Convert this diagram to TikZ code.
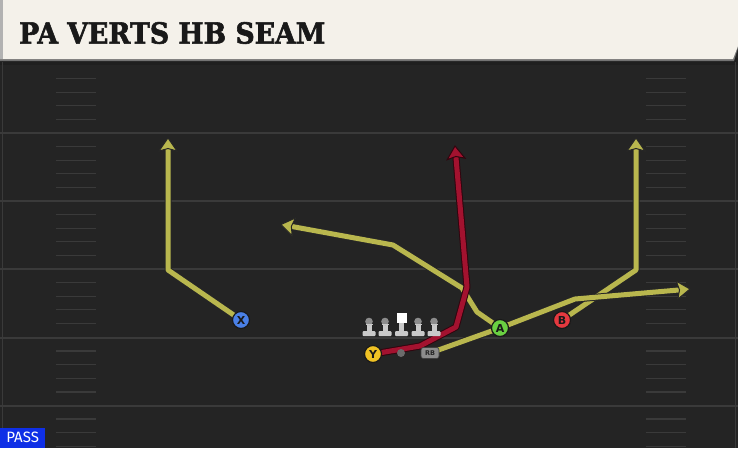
\documentclass[tikz,border=0pt]{standalone}
\usepackage{fontspec}
\usepackage{graphicx}
\usetikzlibrary{calc}
\newfontfamily\titlefont[BoldFeatures={FakeBold=2}]{DejaVu Serif}
\newfontfamily\passfont{Fira Sans}
\newfontfamily\lblfont{DejaVu Sans}
\definecolor{fieldbg}{HTML}{242424}
\definecolor{yardcol}{HTML}{3A3A3A}
\definecolor{hashcol}{HTML}{3A3A3A}
\definecolor{titlebg}{HTML}{F4F1EA}
\definecolor{olivec}{HTML}{B9B74E}
\definecolor{redc}{HTML}{A3122F}
\definecolor{xblue}{HTML}{4A80E6}
\definecolor{yyel}{HTML}{F0C224}
\definecolor{agreen}{HTML}{6AD042}
\definecolor{bred}{HTML}{E5393F}
\definecolor{passblue}{HTML}{0F2FE6}
\definecolor{olbody}{HTML}{C9C9C9}
\definecolor{olhead}{HTML}{8C8C8C}
\pgfdeclarelayer{fieldlayer}
\pgfdeclarelayer{routelayer}
\pgfsetlayers{fieldlayer,routelayer,main}
\tikzset{
  yard/.style={draw=yardcol,line width=2pt},
  hashm/.style={draw=hashcol,line width=1.3pt},
  olout/.style={draw=black!85,line width=7pt,line join=round,shorten >=9pt},
  olin/.style={draw=olivec,line width=5pt,line join=round,shorten >=9pt},
  redout/.style={draw=black!70!redc,line width=7pt,line join=round,shorten >=9pt},
  redin/.style={draw=redc,line width=5pt,line join=round,shorten >=9pt},
  player/.style={circle,draw=black!90,line width=1.2pt,minimum size=17pt,inner sep=0pt,
    font=\lblfont\bfseries\fontsize{11}{11}\selectfont,text=black!90},
  lineman/.pic={
    \fill[olbody,rounded corners=1pt] (-6.5,-2) rectangle (6.5,3);
    \fill[olbody] (-2.5,-9) rectangle (2.5,-1);
    \fill[olhead] (0,-11.5) circle (3.8);
    \fill[olbody] (-3.5,-9.5) rectangle (3.5,-8);
  },
  centerman/.pic={
    \fill[olbody,rounded corners=1pt] (-6.5,-2) rectangle (6.5,3);
    \fill[olbody] (-2.5,-10) rectangle (2.5,-1);
    \fill[white] (-5,-20) rectangle (5,-10);
  }
}
% arrowhead: #1 tip, #2 previous point, #3 fill, #4 outline
\newcommand\ahead[4]{%
  \coordinate (ahB) at ($(#1)!13pt!(#2)$);
  \filldraw[fill=#3,draw=#4,line width=1pt,line join=miter]
    (#1) -- ($(ahB)!9pt!90:(#1)$) -- ($(#1)!10.5pt!(#2)$) -- ($(ahB)!9pt!-90:(#1)$) -- cycle;}
\newcommand\olroute[3]{\draw[olout] #1; \draw[olin] #1; \ahead{#2}{#3}{olivec}{black!85}}
\newcommand\redroute[3]{\draw[redout] #1; \draw[redin] #1; \ahead{#2}{#3}{redc}{black!70!redc}}
\begin{document}
\begin{tikzpicture}[x=1pt,y=-1pt]
\useasboundingbox (0,0) rectangle (738,448);
\begin{pgfonlayer}{fieldlayer}
  \fill[fieldbg] (0,0) rectangle (738,448);
  \fill[black!88] (0,58) rectangle (738,65);
  \foreach \y in {133,201,269,337.5,405.5} {\draw[yard] (0,\y) -- (738,\y);}
  \foreach \b in {65,133,201,269,337.5,405.5} {
    \foreach \j in {1,2,3,4} {
      \draw[hashm] (56,{\b+13.6*\j}) -- (96,{\b+13.6*\j});
      \draw[hashm] (646,{\b+13.6*\j}) -- (686,{\b+13.6*\j});
    }
  }
  \draw[yardcol,line width=1.2pt] (2.5,62) -- (2.5,448);
  \draw[yardcol,line width=1.2pt] (735.5,62) -- (735.5,448);
  \fill[black!55] (0,0) -- (738,0) -- (738,48) -- (734,61) -- (0,61) -- cycle;
  \fill[titlebg] (0,0) -- (738,0) -- (738,46) -- (733,59) -- (0,59) -- cycle;
  \fill[black!30] (0,0) rectangle (3,59);
\end{pgfonlayer}

\node[anchor=west,inner sep=0pt,text=black!90,font=\titlefont\bfseries\fontsize{29}{29}\selectfont] (title) at (19,33) {\scalebox{0.92}[1]{PA VERTS HB SEAM}};

% players
\node[player,fill=xblue] (X) at (241,320) {X};
\node[player,fill=yyel] (Y) at (373,354) {Y};
\node[player,fill=agreen] (A) at (500,328) {A};
\node[player,fill=bred] (B) at (562,320) {B};
\node[circle,fill=black!58,minimum size=8pt,inner sep=0pt] (QB) at (401,353) {};
\node[rounded corners=2.5pt,fill=black!45,draw=black!75,line width=0.6pt,minimum width=18pt,minimum height=11pt,inner sep=0pt,
  font=\lblfont\bfseries\fontsize{6.5}{6.5}\selectfont,text=black!85] (RB) at (430,353) {RB};
\foreach \x/\n in {369/LT,385/LG,418/RG,434/RT} {\pic (\n) at (\x,333) {lineman};}
\pic (C) at (401.5,333) {centerman};

% routes
\coordinate (Xbend) at (168,270);
\coordinate (Xend) at (168,138);
\coordinate (Bbend) at (636,270);
\coordinate (Bend) at (636,138);
\coordinate (A1) at (477,312);
\coordinate (A2) at (462,288);
\coordinate (A3) at (393,245);
\coordinate (Aend) at (281,224.5);
\coordinate (R1) at (575,299);
\coordinate (Rend) at (690,289);
\coordinate (Y1) at (420,346);
\coordinate (Y2) at (456,327);
\coordinate (Y3) at (467,287);
\coordinate (Yend) at (455,146);
\begin{pgfonlayer}{routelayer}
  \olroute{(X.center) -- (Xbend) -- (Xend)}{Xend}{Xbend}
  \olroute{(B.center) -- (Bbend) -- (Bend)}{Bend}{Bbend}
  \olroute{(RB.center) -- (A.center) -- (R1) -- (Rend)}{Rend}{R1}
  \olroute{(A.center) -- (A1) -- (A2) -- (A3) -- (Aend)}{Aend}{A3}
  \redroute{(Y.center) -- (Y1) -- (Y2) -- (Y3) -- (Yend)}{Yend}{Y3}
\end{pgfonlayer}

\node[anchor=south west,fill=passblue,text=white,minimum width=45pt,minimum height=20pt,inner sep=0pt,
  font=\passfont\fontsize{15}{15}\selectfont] (pass) at (0,448) {PASS};
\end{tikzpicture}
\end{document}
